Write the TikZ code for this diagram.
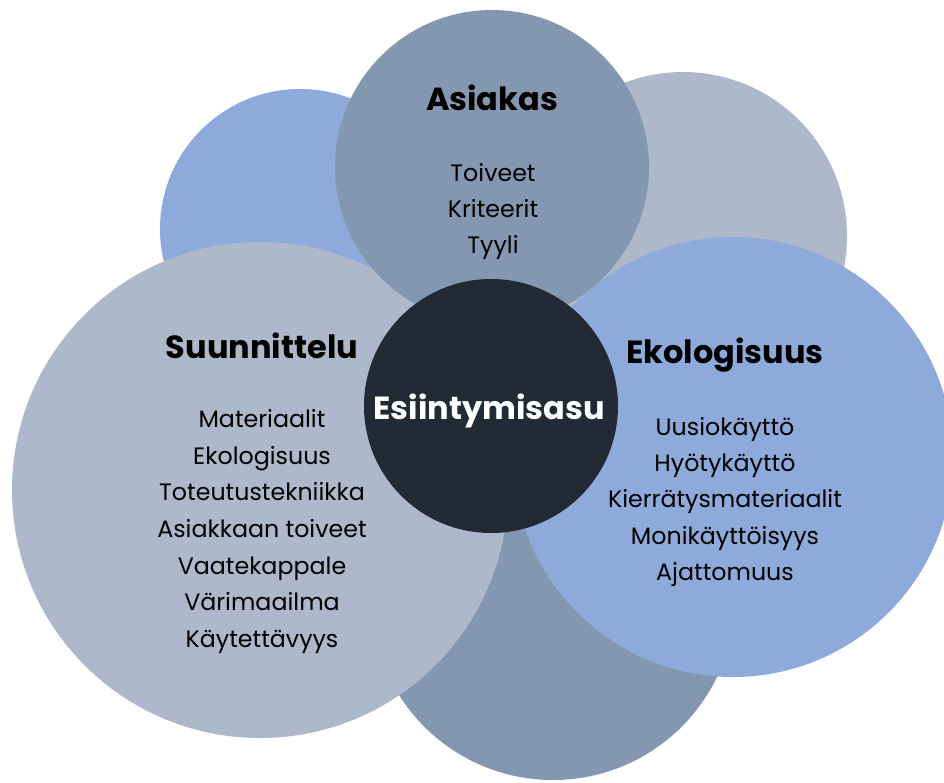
\documentclass[tikz,border=0pt]{standalone}
\usepackage{fontspec}
\setmainfont{Poppins}
\definecolor{ringblue}{RGB}{142,170,219}
\definecolor{ringgray}{RGB}{173,185,202}
\definecolor{ringslate}{RGB}{132,151,176}
\definecolor{coredark}{RGB}{34,42,53}

\begin{document}
\begin{tikzpicture}[x=0.75pt,y=-0.75pt,
    disc/.style={circle,inner sep=0pt,draw=none},
    heading/.style={anchor=base,font=\fontsize{24}{28}\selectfont\bfseries},
    item/.style={anchor=base,font=\fontsize{17.8}{21}\selectfont}]
        \useasboundingbox (0,0) rectangle (944,782);
        % back circles
        \node[disc,fill=ringblue,minimum size=210pt] (backleft) at (300,229) {};
        \node[disc,fill=ringgray,minimum size=246pt] (backright) at (683,236) {};
        \node[disc,fill=ringslate,minimum size=273pt] (backbottom) at (553,598) {};
        % front circles
        \node[disc,fill=ringgray,minimum size=372pt] (suun) at (260,490) {};
        \node[disc,fill=ringblue,minimum size=330pt] (eko) at (733,457) {};
        \node[disc,fill=ringslate,minimum size=235.5pt] (asiakas) at (492,167) {};
        \node[disc,fill=coredark,minimum size=190.5pt] (core) at (491,406) {};
        % texts
        \node[heading,white] (coretext) at (489,419) {Esiintymisasu};
        \node[heading] (asiakastitle) at (492,110) {Asiakas};
        \node[item] (toiveet) at (493,181.7) {Toiveet};
        \node[item] (kriteerit) at (493,217.4) {Kriteerit};
        \node[item] (tyyli) at (493,253) {Tyyli};
        \node[heading] (suuntitle) at (262,358) {Suunnittelu};
        \node[item] (materiaalit) at (262,427) {Materiaalit};
        \node[item] (ekologisuus) at (262,464) {Ekologisuus};
        \node[item] (toteutus) at (262,500) {Toteutustekniikka};
        \node[item] (asiakkaan) at (262,537) {Asiakkaan toiveet};
        \node[item] (vaate) at (262,574) {Vaatekappale};
        \node[item] (vari) at (262,610) {Värimaailma};
        \node[item] (kaytto) at (262,647) {Käytettävyys};
        \node[heading] (ekotitle) at (725,363) {Ekologisuus};
        \node[item] (uusio) at (725,435) {Uusiokäyttö};
        \node[item] (hyoty) at (725,471) {Hyötykäyttö};
        \node[item] (kierratys) at (725,507) {Kierrätysmateriaalit};
        \node[item] (moni) at (725,544) {Monikäyttöisyys};
        \node[item] (ajaton) at (725,580) {Ajattomuus};
      \end{tikzpicture}
\end{document}
